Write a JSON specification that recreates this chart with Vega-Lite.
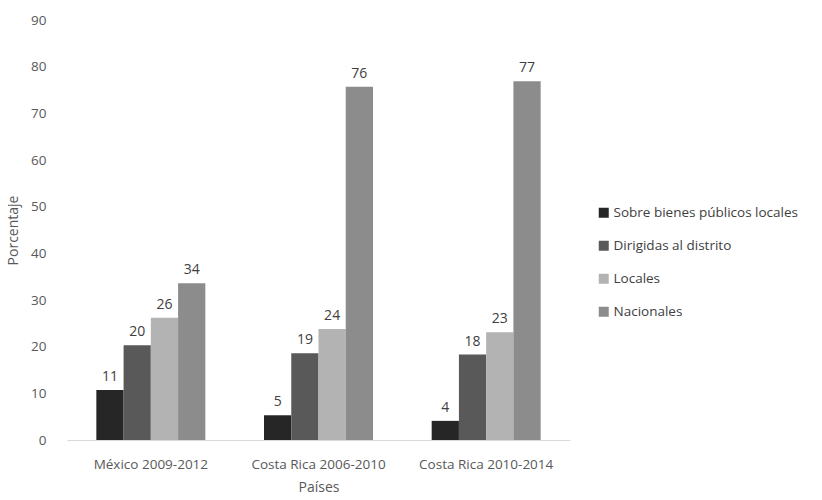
{
  "$schema": "https://vega.github.io/schema/vega-lite/v6.json",
  "autosize": "none",
  "width": 503,
  "height": 420,
  "padding": {"left": 67, "top": 20, "right": 252, "bottom": 60},
  "background": "white",
  "data": {
    "values": [
      {"pais": "México 2009-2012", "tipo": "Sobre bienes públicos locales", "valor": 10.7},
      {"pais": "México 2009-2012", "tipo": "Dirigidas al distrito", "valor": 20.3},
      {"pais": "México 2009-2012", "tipo": "Locales", "valor": 26.2},
      {"pais": "México 2009-2012", "tipo": "Nacionales", "valor": 33.6},
      {"pais": "Costa Rica 2006-2010", "tipo": "Sobre bienes públicos locales", "valor": 5.3},
      {"pais": "Costa Rica 2006-2010", "tipo": "Dirigidas al distrito", "valor": 18.6},
      {"pais": "Costa Rica 2006-2010", "tipo": "Locales", "valor": 23.8},
      {"pais": "Costa Rica 2006-2010", "tipo": "Nacionales", "valor": 75.7},
      {"pais": "Costa Rica 2010-2014", "tipo": "Sobre bienes públicos locales", "valor": 4.1},
      {"pais": "Costa Rica 2010-2014", "tipo": "Dirigidas al distrito", "valor": 18.3},
      {"pais": "Costa Rica 2010-2014", "tipo": "Locales", "valor": 23.1},
      {"pais": "Costa Rica 2010-2014", "tipo": "Nacionales", "valor": 76.9}
    ]
  },
  "config": {
    "view": {"stroke": null},
    "font": "Open Sans",
    "axis": {"labelColor": "#595959", "titleColor": "#595959", "labelFont": "Open Sans", "titleFont": "Open Sans", "labelFontSize": 13.5, "titleFontSize": 14, "titleFontWeight": "normal", "grid": false, "ticks": false},
    "legend": {"labelColor": "#404040", "labelFont": "Open Sans", "labelFontSize": 13.5, "labelLimit": 400}
  },
  "encoding": {
    "x": {
      "field": "pais", "type": "nominal", "sort": null, "title": "Países",
      "scale": {"paddingInner": 0.35, "paddingOuter": 0.175},
      "axis": {"labelAngle": 0, "domainColor": "#d9d9d9", "labelPadding": 17, "titlePadding": 10}
    },
    "xOffset": {"field": "tipo", "type": "nominal", "sort": ["Sobre bienes públicos locales", "Dirigidas al distrito", "Locales", "Nacionales"], "scale": {"paddingInner": 0, "paddingOuter": 0}},
    "y": {
      "field": "valor", "type": "quantitative", "title": "Porcentaje",
      "scale": {"domain": [0, 90]},
      "axis": {"values": [0, 10, 20, 30, 40, 50, 60, 70, 80, 90], "domain": false, "labelPadding": 21, "titlePadding": 10}
    }
  },
  "layer": [
    {
      "mark": {"type": "bar"},
      "encoding": {
        "color": {
          "field": "tipo", "type": "nominal", "title": null,
          "sort": ["Sobre bienes públicos locales", "Dirigidas al distrito", "Locales", "Nacionales"],
          "scale": {"domain": ["Sobre bienes públicos locales", "Dirigidas al distrito", "Locales", "Nacionales"], "range": ["#262626", "#595959", "#b3b3b3", "#8c8c8c"]},
          "legend": {"orient": "none", "legendX": 530, "legendY": 186, "symbolType": "square", "symbolSize": 100, "rowPadding": 18, "labelOffset": 3, "symbolStrokeWidth": 0}
        }
      }
    },
    {
      "mark": {"type": "text", "baseline": "bottom", "dy": -6, "fontSize": 14, "color": "#404040", "font": "Open Sans"},
      "encoding": {
        "text": {"field": "valor", "type": "quantitative", "format": ".0f"}
      }
    }
  ]
}
